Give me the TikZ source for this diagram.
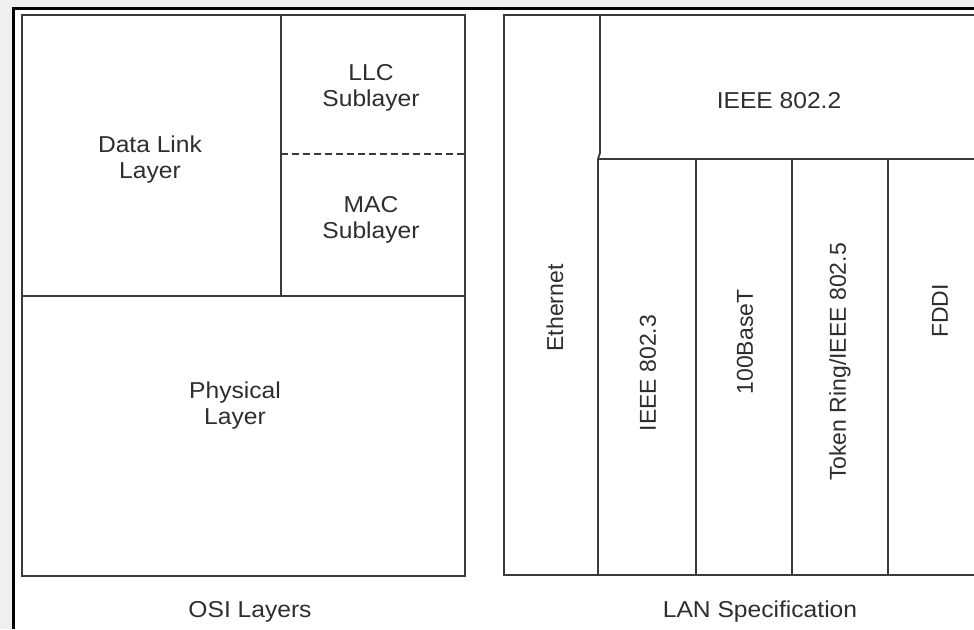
\documentclass[tikz,border=0pt]{standalone}
\usepackage{fontspec}
\setmainfont{Liberation Sans}
\definecolor{pagegray}{HTML}{EFEFEF}
\definecolor{linegray}{HTML}{3A3A3A}
\definecolor{textgray}{HTML}{2E2E2E}
\tikzset{
  layerline/.style={line width=1.8pt,draw=linegray},
  labelfont/.style={font=\fontsize{23}{26}\selectfont,text=textgray,align=center,inner sep=0pt},
  layerlabel/.style={labelfont,xscale=1.07},
  speclabel/.style={labelfont,rotate=90}
}
\begin{document}
\begin{tikzpicture}[x=1pt,y=-1pt]
\useasboundingbox (0,0) rectangle (974,629);
% page and frame
\fill[pagegray] (0,0) rectangle (974,629);
\fill[white] (13.5,8.5) rectangle (974,629);
\draw[line width=2.6pt,black] (13.5,629) |- (974,8.5);
\begin{scope}
\clip (0,0) rectangle (974,629);
% OSI layers
\draw[layerline] (22,15) rectangle (465,576);
\draw[layerline] (281,15) -- (281,296);
\draw[layerline] (22,296) -- (465,296);
\draw[layerline,dashed,dash pattern=on 7pt off 4pt] (281,154) -- (465,154);
% LAN specification
\draw[layerline] (990,15) -| (504,575) -- (990,575);
\draw[layerline] (600,15) -- (600,153) -- (598,159) -- (598,575);
\draw[layerline] (598,159) -- (990,159);
\foreach \x in {696,792,888} {
  \draw[layerline] (\x,159) -- (\x,575);
}
\end{scope}
\node[layerlabel] (dll) at (150,160) {Data Link\\Layer};
\node[layerlabel] (llc) at (371,88) {LLC\\Sublayer};
\node[layerlabel] (mac) at (371,220) {MAC\\Sublayer};
\node[layerlabel] (phy) at (235,406) {Physical\\Layer};
\node[layerlabel] (llcspec) at (779,101) {IEEE 802.2};
\node[speclabel] (eth) at (555,308) {Ethernet};
\node[speclabel] (dot3) at (648,373) {IEEE 802.3};
\node[speclabel] (fast) at (745,342) {100BaseT};
\node[speclabel] (dot5) at (840,362) {Token Ring/IEEE 802.5};
\node[speclabel] (fddi) at (940,311) {FDDI};
\node[layerlabel] (osi) at (250,612) {OSI Layers};
\node[layerlabel] (lan) at (760,612) {LAN Specification};
\end{tikzpicture}
\end{document}
